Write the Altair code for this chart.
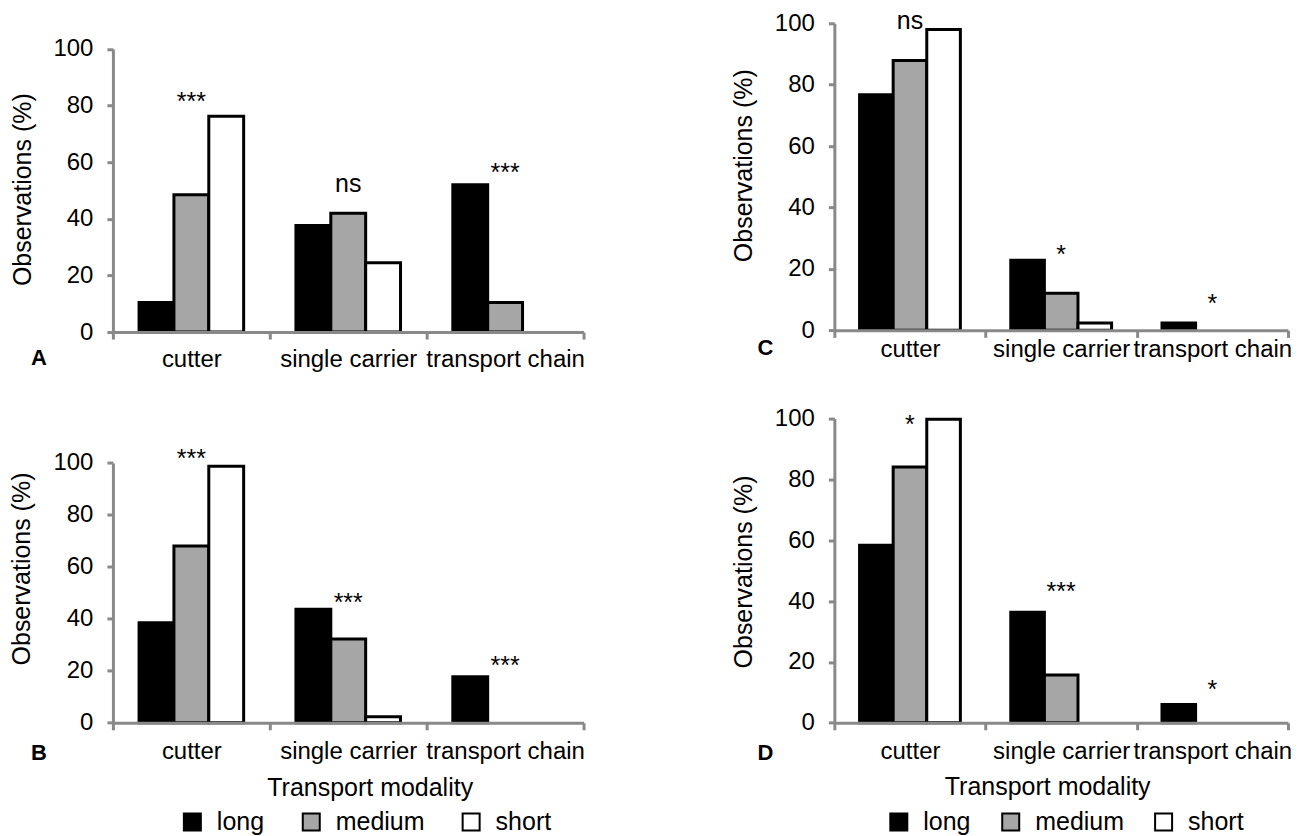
import altair as alt
import pandas as pd

FONT = "Liberation Sans, Arial, Helvetica, sans-serif"

categories = ["cutter", "single carrier", "transport chain"]
groups = ["long", "medium", "short"]
fills = ["#000000", "#a6a6a6", "#ffffff"]
y_ticks = [0, 20, 40, 60, 80, 100]

# Panel A
a_long = [10.4, 37.6, 52.0]
a_medium = [48.5, 42.0, 10.4]
a_short = [76.2, 24.5, 0.0]
a_sig = ["***", "ns", "***"]
a_sig_y = [81.2, 52.4, 56.2]

# Panel B
b_long = [38.5, 43.7, 17.7]
b_medium = [68.0, 32.2, 0.0]
b_short = [98.7, 2.3, 0.0]
b_sig = ["***", "***", "***"]
b_sig_y = [101.4, 46.2, 22.0]

# Panel C
c_long = [76.7, 22.8, 2.4]
c_medium = [87.9, 12.1, 0.0]
c_short = [98.0, 2.4, 0.0]
c_sig = ["ns", "*", "*"]
c_sig_y = [100.8, 24.6, 8.6]

# Panel D
d_long = [58.4, 36.3, 6.0]
d_medium = [84.1, 15.7, 0.0]
d_short = [99.8, 0.0, 0.0]
d_sig = ["*", "***", "*"]
d_sig_y = [98.0, 43.1, 10.9]

AXIS_GRAY = "#898989"


def panel(letter, long_, med_, short_, sig, sig_y, width, height, y_range,
          letter_xy, ytitle_xy, label_pad, xtitle_xy=None, legend_opts=None):
    rows = []
    for g, vals in zip(groups, [long_, med_, short_]):
        for c, v in zip(categories, vals):
            rows.append({"modality": c, "group": g, "value": v})
    bars_df = pd.DataFrame(rows)
    sig_df = pd.DataFrame({"modality": categories, "sig": sig, "sy": sig_y})
    letter_df = pd.DataFrame({"letter": [letter]})

    x_axis_kwargs = dict(
        labelAngle=0, tickBand="extent", domainColor=AXIS_GRAY, domainWidth=3,
        tickColor=AXIS_GRAY, tickWidth=3, tickSize=7, labelFontSize=24,
        labelFont=FONT, labelColor="black", labelPadding=label_pad, zindex=1,
    )
    if xtitle_xy is not None:
        x_axis_kwargs.update(
            title="Transport modality", titleFontSize=25, titleFont=FONT,
            titleFontWeight="normal", titleColor="black",
            titleX=xtitle_xy[0], titleY=xtitle_xy[1], titleBaseline="alphabetic",
        )
    else:
        x_axis_kwargs.update(title=None)

    x_enc = alt.X(
        "modality:N", sort=categories,
        scale=alt.Scale(paddingInner=0, paddingOuter=0),
        axis=alt.Axis(**x_axis_kwargs),
    )

    y_scale = alt.Scale(domain=[0, 100], range=y_range)
    y_axis = alt.Axis(
        values=y_ticks, title="Observations (%)", titleFontSize=25, titleFont=FONT,
        titleFontWeight="normal", titleColor="black", titleAngle=270,
        titleX=ytitle_xy[0], titleY=ytitle_xy[1], titleBaseline="middle",
        domainColor=AXIS_GRAY, domainWidth=3, tickColor=AXIS_GRAY, tickWidth=3,
        tickSize=6, labelFontSize=24, labelFont=FONT, labelColor="black",
        labelPadding=14, grid=False, zindex=1,
    )

    if legend_opts is not None:
        lx, ly, cpad = legend_opts
        legend = alt.Legend(
            orient="none", legendX=lx, legendY=ly,
            direction="horizontal", title=None, symbolType="square",
            symbolSize=289, symbolStrokeColor="black", symbolStrokeWidth=2,
            symbolOpacity=1, labelFontSize=25, labelFont=FONT, labelColor="black",
            labelOffset=12, columnPadding=cpad,
        )
    else:
        legend = None

    bars = alt.Chart(bars_df).transform_filter("datum.value > 0").mark_bar(
        stroke="black", strokeWidth=3, strokeJoin="miter", opacity=1
    ).encode(
        x=x_enc,
        xOffset=alt.XOffset("group:N", sort=groups,
                            scale=alt.Scale(paddingOuter=0.75, paddingInner=0)),
        y=alt.Y("value:Q", scale=y_scale, axis=y_axis),
        fill=alt.Fill("group:N", sort=groups,
                      scale=alt.Scale(domain=groups, range=fills), legend=legend),
    )

    sig_text = alt.Chart(sig_df).mark_text(
        fontSize=25, font=FONT, color="black", baseline="middle", align="center"
    ).encode(
        x=x_enc,
        y=alt.Y("sy:Q", scale=y_scale, axis=y_axis),
        text="sig:N",
    )

    letter_text = alt.Chart(letter_df).mark_text(
        fontSize=22, font=FONT, fontWeight="bold", color="black",
        baseline="middle", align="center"
    ).encode(
        x=alt.value(letter_xy[0]), y=alt.value(letter_xy[1]), text="letter:N"
    )

    return alt.layer(bars, sig_text, letter_text).properties(width=width, height=height)


LW = 471
RW = 454

chart_a = panel("A", a_long, a_medium, a_short, a_sig, a_sig_y, LW, 309, [309, 25.6],
                letter_xy=(-74, 335), ytitle_xy=(-90, 166), label_pad=8)
chart_c = panel("C", c_long, c_medium, c_short, c_sig, c_sig_y, RW, 307.3, [307.3, 0],
                letter_xy=(-69, 325), ytitle_xy=(-91, 142), label_pad=0)
chart_b = panel("B", b_long, b_medium, b_short, b_sig, b_sig_y, LW, 304.4, [304.4, 44.4],
                letter_xy=(-74, 335), ytitle_xy=(-91, 150), label_pad=10,
                xtitle_xy=(257, 73), legend_opts=(67, 391, 34))
chart_d = panel("D", d_long, d_medium, d_short, d_sig, d_sig_y, RW, 304.4, [304.4, 0],
                letter_xy=(-69, 335), ytitle_xy=(-91, 153), label_pad=10,
                xtitle_xy=(213, 72), legend_opts=(52, 391, 27))

chart = alt.concat(
    chart_a, chart_c, chart_b, chart_d, columns=2,
    spacing={"row": 86.6, "column": 251}, bounds="flush",
).resolve_scale(
    fill="independent", x="independent", y="independent", xOffset="independent"
).resolve_legend(fill="independent").properties(
    padding={"left": 2, "top": 0, "right": 5, "bottom": 0},
    background="white",
).configure_view(stroke=None)

chart.save("out.html", embed_options={"renderer": "svg", "actions": False})
